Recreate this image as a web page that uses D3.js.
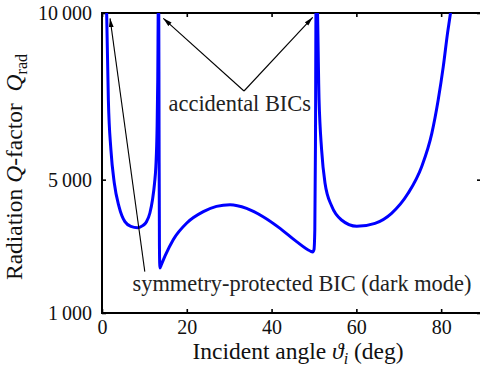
<!DOCTYPE html>
<html>
<head>
<meta charset="utf-8">
<script src="https://cdn.jsdelivr.net/npm/d3@7"></script>
<style>
  body { margin: 0; background: #fff; }
</style>
</head>
<body>
<div id="chart"></div>
<script>
// Incident angle (deg) and radiation Q-factor
var angles = [0.9, 1.1, 1.5, 2.1, 2.9, 4.0, 5.4, 6.8, 8.4, 9.6, 10.5, 11.3, 11.9, 12.4, 12.7, 13.0, 13.15, 13.3,
              13.38, 13.46, 13.55, 13.65, 14.0, 14.9, 16.8, 20.0, 23.9, 27.0, 30.2, 34.1, 38.0, 42.0, 45.9, 49.1, 49.7,
              50.0, 50.2, 50.35, 50.5,
              50.7, 51.2, 51.8, 52.6, 54.2, 56.5, 60.1, 64.4, 68.3, 72.2, 75.4, 77.8, 79.3, 80.5, 81.5, 82.2, 82.6];
var qValues = [11000, 10000, 7400, 5900, 4900, 4200, 3740, 3600, 3560, 3620, 3740, 4000, 4390, 4900, 5390, 6600, 8000, 10500,
               10500, 6500, 3000, 2350, 2450, 2720, 3200, 3700, 4040, 4200, 4250, 4140, 3890, 3540, 3140, 2860, 2830,
               2900, 3500, 6000, 10500,
               10500, 7400, 5900, 4900, 4200, 3790, 3600, 3690, 3990, 4590, 5390, 6390, 7390, 8390, 9390, 10000, 10400];

var xTicks = [0, 20, 40, 60, 80];
var yTicks = [1000, 5000, 10000];
var yTickLabels = ["1\u2009000", "5\u2009000", "10\u2009000"];

// Annotations (data coordinates)
var accidentalLabel = [32.5, 7060];
var accidentalFrom = [33.5, 7660];
var accidentalTargets = [[14.45, 9840], [49.7, 9870]];
var symmetryLabel = [7.2, 1660];
var symmetryFrom = [10.1, 2240];
var symmetryTarget = [1.9, 9840];

var serif = "'Liberation Serif', 'Times New Roman', serif";
var W = 480, H = 380;
var margin = { top: 13, right: -1, bottom: 67, left: 102 };
var width = W - margin.left - margin.right,
    height = H - margin.top - margin.bottom;

var svg = d3.select("#chart").append("svg")
    .attr("width", W)
    .attr("height", H)
    .style("font-family", serif);

var defs = svg.append("defs");
defs.append("clipPath").attr("id", "clip")
  .append("rect").attr("width", width).attr("height", height);
defs.append("marker")
    .attr("id", "arrow")
    .attr("markerUnits", "userSpaceOnUse")
    .attr("viewBox", "0 0 9 6")
    .attr("refX", 9).attr("refY", 3)
    .attr("markerWidth", 9).attr("markerHeight", 6)
    .attr("orient", "auto")
  .append("path")
    .attr("d", "M0,0.6 L9,3 L0,5.4 Z")
    .attr("fill", "#000");

var g = svg.append("g")
    .attr("transform", "translate(" + margin.left + "," + margin.top + ")");

var x = d3.scaleLinear().domain([0, 89.4]).range([0, width]);
var y = d3.scaleLinear().domain([1000, 10000]).range([height, 0]);

// axes, ticks pointing inward on all four sides
g.append("g")
    .attr("transform", "translate(0," + height + ")")
    .call(d3.axisBottom(x).tickValues(xTicks).tickSizeInner(-4).tickSizeOuter(0).tickPadding(7));
g.append("g")
    .call(d3.axisLeft(y).tickValues(yTicks).tickSizeInner(-4).tickSizeOuter(0).tickPadding(10)
      .tickFormat(function (d, i) { return yTickLabels[i]; }));
g.append("g")
    .call(d3.axisTop(x).tickValues(xTicks).tickSizeInner(-4).tickSizeOuter(0).tickFormat(""));
g.append("g")
    .attr("transform", "translate(" + width + ",0)")
    .call(d3.axisRight(y).tickValues(yTicks).tickSizeInner(-4).tickSizeOuter(0).tickFormat(""));

g.selectAll(".domain").remove();
g.selectAll(".tick line").attr("stroke", "#000").attr("stroke-width", 1.6);
g.selectAll(".tick text")
    .attr("fill", "#111")
    .attr("font-family", serif)
    .attr("font-size", 20);

g.append("rect")
    .attr("width", width).attr("height", height)
    .attr("fill", "none")
    .attr("stroke", "#000")
    .attr("stroke-width", 2);

// the curve
var line = d3.line()
    .x(function (d, i) { return x(angles[i]); })
    .y(function (d, i) { return y(qValues[i]); })
    .curve(d3.curveMonotoneX);

g.append("path")
    .datum(angles)
    .attr("clip-path", "url(#clip)")
    .attr("d", line)
    .attr("fill", "none")
    .attr("stroke", "#0000ff")
    .attr("stroke-width", 3)
    .attr("stroke-linejoin", "round");

// annotation arrows
accidentalTargets.forEach(function (t) {
  g.append("line")
      .attr("x1", x(accidentalFrom[0])).attr("y1", y(accidentalFrom[1]))
      .attr("x2", x(t[0])).attr("y2", y(t[1]))
      .attr("stroke", "#000").attr("stroke-width", 1.1)
      .attr("marker-end", "url(#arrow)");
});
g.append("line")
    .attr("x1", x(symmetryFrom[0])).attr("y1", y(symmetryFrom[1]))
    .attr("x2", x(symmetryTarget[0])).attr("y2", y(symmetryTarget[1]))
    .attr("stroke", "#000").attr("stroke-width", 1.1)
    .attr("marker-end", "url(#arrow)");

g.append("text")
    .attr("x", x(accidentalLabel[0])).attr("y", y(accidentalLabel[1]))
    .attr("text-anchor", "middle")
    .attr("fill", "#222")
    .attr("font-family", serif)
    .attr("font-size", 22.4)
    .text("accidental BICs");

g.append("text")
    .attr("x", x(symmetryLabel[0])).attr("y", y(symmetryLabel[1]))
    .attr("fill", "#222")
    .attr("font-family", serif)
    .attr("font-size", 22.4)
    .text("symmetry-protected BIC (dark mode)");

// x axis title
var xt = svg.append("text")
    .attr("x", 298)
    .attr("y", 359)
    .attr("text-anchor", "middle")
    .attr("fill", "#111")
    .attr("font-family", serif)
    .attr("font-size", 23.5);
xt.append("tspan").text("Incident angle ");
xt.append("tspan").attr("font-style", "italic").text("\u03d1");
xt.append("tspan").attr("font-style", "italic").attr("font-size", 16).attr("dy", 5).text("i");
xt.append("tspan").attr("dy", -5).text(" (deg)");

// y axis title
var yt = svg.append("text")
    .attr("transform", "translate(22,167) rotate(-90)")
    .attr("text-anchor", "middle")
    .attr("fill", "#111")
    .attr("font-family", serif)
    .attr("font-size", 23.5);
yt.append("tspan").text("Radiation ");
yt.append("tspan").attr("font-style", "italic").text("Q");
yt.append("tspan").text("-factor\u2002");
yt.append("tspan").attr("font-style", "italic").text("Q");
yt.append("tspan").attr("font-size", 16).attr("dy", 5).text("rad");
</script>
</body>
</html>
